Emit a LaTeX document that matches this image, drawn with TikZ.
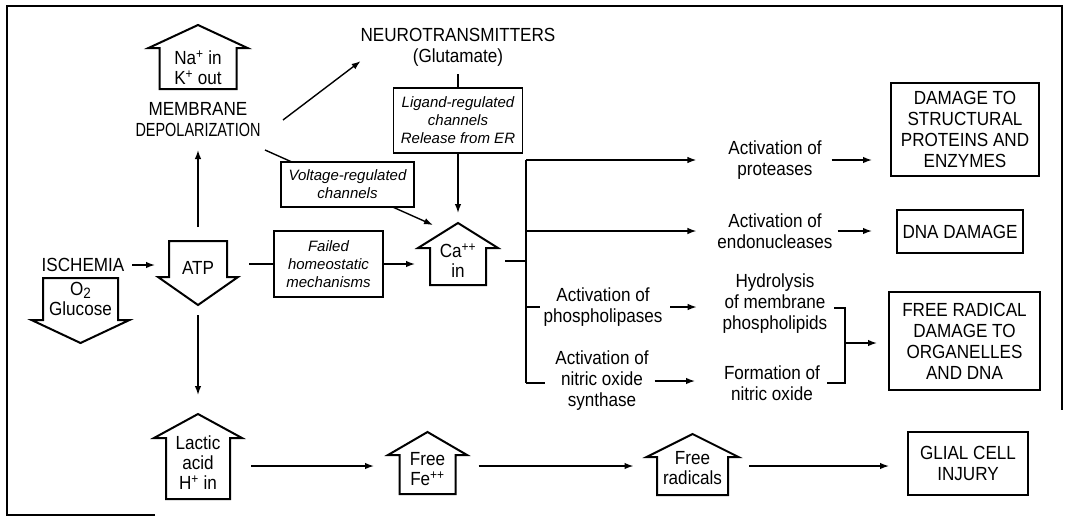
\documentclass[tikz,border=0pt]{standalone}
\usepackage{fontspec}
\setmainfont{Liberation Sans}[FakeStretch=0.9]
\newfontfamily\condfont{Liberation Sans}[FakeStretch=0.76]
\newfontfamily\itfam{Liberation Sans}
\usetikzlibrary{arrows.meta,calc}

\newcommand\fmain{\fontsize{19}{21}\selectfont}
\newcommand\fblk{\fontsize{19}{20}\selectfont}
\newcommand\fital{\itfam\fontsize{15}{18}\selectfont\itshape}
\newcommand\subtwo{\raisebox{-0.25ex}{\fontsize{15}{15}\selectfont 2}}

% up block arrow: name, cx, apex y, wing y, bottom y, half body, half wing, text y, text
\newcommand\UpBlk[9]{%
  \draw[blk] (#2,#3) coordinate (#1-top) -- (#2+#7,#4) coordinate (#1-rw) -- (#2+#6,#4) -- (#2+#6,#5)
     -- (#2-#6,#5) -- (#2-#6,#4) -- (#2-#7,#4) coordinate (#1-lw) -- cycle;
  \node[inner sep=0pt, outer sep=0pt, minimum width={2*#6}, minimum height={#5-#4}] (#1) at (#2,{(#4+#5)/2}) {};
  \node[btxt] (#1-t) at (#2,#8) {#9};
}
% down block arrow: name, cx, top y, wing y, tip y, half body, half wing, text y, text
\newcommand\DnBlk[9]{%
  \draw[blk] (#2-#6,#3) -- (#2+#6,#3) -- (#2+#6,#4) -- (#2+#7,#4) coordinate (#1-rw) -- (#2,#5) coordinate (#1-tip)
     -- (#2-#7,#4) coordinate (#1-lw) -- (#2-#6,#4) -- cycle;
  \node[inner sep=0pt, outer sep=0pt, minimum width={2*#6}, minimum height={#4-#3}] (#1) at (#2,{(#3+#4)/2}) {};
  \node[btxt] (#1-t) at (#2,#8) {#9};
}

\begin{document}
\begin{tikzpicture}[x=1pt,y=-1pt,
  ln/.style={line width=1.4pt},
  arr/.style={ln,-{Latex[length=9pt,width=6.5pt]}},
  blk/.style={line width=2pt, line join=miter},
  txt/.style={font=\fmain, align=center, inner sep=0pt, outer sep=0pt},
  btxt/.style={font=\fblk, align=center, inner sep=0pt, outer sep=0pt},
  ibox/.style={draw, line width=1.5pt, font=\fital, align=center, inner sep=0pt, outer sep=0pt, fill=white},
  bbox/.style={draw, line width=2.2pt, font=\fmain, align=center, inner sep=0pt, outer sep=0pt},
]
\useasboundingbox (0,0) rectangle (1068,517);

% frame (as visible)
\draw[line width=1.5pt] (155,515) -- (7,515) -- (7,6) -- (1062,6) -- (1062,410);

% block arrows
\UpBlk{nak}{198}{25}{48}{89}{38.5}{49.5}{68}{Na\textsuperscript{+} in\\K\textsuperscript{+} out}
\DnBlk{o2}{80.5}{278}{320}{343}{37.5}{49}{299}{O\subtwo\\Glucose}
\DnBlk{atp}{198}{241}{277}{305}{29}{40}{268}{ATP}
\UpBlk{ca}{458}{223}{248}{285}{28}{40}{261}{Ca\textsuperscript{++}\\in}
\UpBlk{lac}{198}{414}{438}{499}{32}{44}{463}{Lactic\\acid\\H\textsuperscript{+} in}
\UpBlk{fe}{427.5}{432}{455}{494}{28}{39.5}{469}{Free\\Fe\textsuperscript{++}}
\UpBlk{rad}{692.5}{434}{457}{495}{35.5}{46}{468}{Free\\radicals}

% texts
\node[txt, minimum width=170pt, minimum height=60pt] (dep) at (198,120) {MEMBRANE\\{\condfont DEPOLARIZATION}};
\node[txt] (nt) at (458,47) {NEUROTRANSMITTERS\\(Glutamate)};
\node[txt] (isch) at (83,265) {ISCHEMIA};

% line through voltage box (box drawn on top)
\draw[arr] ([xshift=67pt]dep.south) -- ([xshift=-25pt,yshift=-2pt]ca-top);

\node[ibox, minimum width=129pt, minimum height=65pt] (lig) at (458,120.5) {Ligand-regulated\\channels\\Release from ER};
\node[ibox, minimum width=133pt, minimum height=45pt] (volt) at (347.5,184.5) {Voltage-regulated\\channels};
\node[ibox, minimum width=109pt, minimum height=66pt] (fail) at (328.5,264) {Failed\\homeostatic\\mechanisms};

\node[txt] (prot) at (775,160) {Activation of\\proteases};
\node[txt] (endo) at (775,231) {Activation of\\endonucleases};
\node[txt] (phos) at (603,307) {Activation of\\phospholipases};
\node[txt] (nos) at (602,381) {Activation of\\nitric oxide\\synthase};
\node[txt] (hyd) at (775,304) {Hydrolysis\\of membrane\\phospholipids};
\node[txt] (form) at (772,383) {Formation of\\nitric oxide};

\node[bbox, minimum width=148pt, minimum height=93pt] (dmg) at (965,129.5) {DAMAGE TO\\STRUCTURAL\\PROTEINS AND\\ENZYMES};
\node[bbox, minimum width=126pt, minimum height=43pt] (dna) at (960,231.5) {DNA DAMAGE};
\node[bbox, minimum width=151pt, minimum height=98pt] (frd) at (964.5,341) {FREE RADICAL\\DAMAGE TO\\ORGANELLES\\AND DNA};
\node[bbox, minimum width=120pt, minimum height=63pt] (glial) at (968,463.5) {GLIAL CELL\\INJURY};

\coordinate (busT) at (526,160);
\coordinate (busB) at (526,383);
\coordinate (brx) at (845,343);
\coordinate (row) at (0,466);

% connectors
\draw[arr, shorten <=14pt] (atp.north) -- (dep.south);
\draw[arr] (dep.east) -- ([yshift=5pt]nt.south west);
\draw[ln, shorten <=8pt] (nt.south) -- (lig.north);
\draw[arr, shorten >=10pt] (lig.south) -- (ca-top);
\draw[arr, shorten <=8pt, shorten >=3pt] (isch.east) -- (isch.east -| atp-lw);
\draw[ln, shorten >=11pt] (fail.west) -- (fail.west -| atp-rw);
\draw[arr, shorten >=3pt] (fail.east) -- (fail.east -| ca-lw);
\draw[ln, shorten <=7pt] (ca-t -| ca-rw) -- (ca-t -| busT);

\draw[ln] (busT) -- (busB);
\draw[arr, shorten >=32pt] (busT) -- (prot.west);
\draw[arr, shorten >=21pt] (busT |- endo.west) -- (endo.west);
\draw[ln, shorten >=4pt] (busT |- phos.west) -- (phos.west);
\draw[ln, shorten >=10pt] (busB) -- (busB -| nos.west);

\draw[arr, shorten <=10pt, shorten >=19pt] (prot.east) -- (prot.east -| dmg.west);
\draw[arr, shorten <=5pt, shorten >=25pt] (endo.east) -- (endo.east -| dna.west);
\draw[arr, shorten <=8pt, shorten >=26pt] (phos.east) -- (phos.east -| hyd.west);
\draw[arr, shorten <=6pt, shorten >=29pt] (nos.east) -- (nos.east -| form.west);

\draw[ln] ([xshift=7pt,yshift=-4pt]hyd.east) -| (brx) |- ([xshift=7pt]form.east);
\draw[arr, shorten >=12pt] (brx) -- (brx -| frd.west);

\draw[arr, shorten <=10pt, shorten >=19pt] (atp-tip) -- (lac-top);
\draw[arr, shorten <=21pt, shorten >=14pt] (lac.east |- row) -- (fe-lw |- row);
\draw[arr, shorten <=23pt, shorten >=13pt] (fe.east |- row) -- (rad-lw |- row);
\draw[arr, shorten <=21pt, shorten >=19pt] (rad.east |- row) -- (glial.west |- row);
\end{tikzpicture}
\end{document}
